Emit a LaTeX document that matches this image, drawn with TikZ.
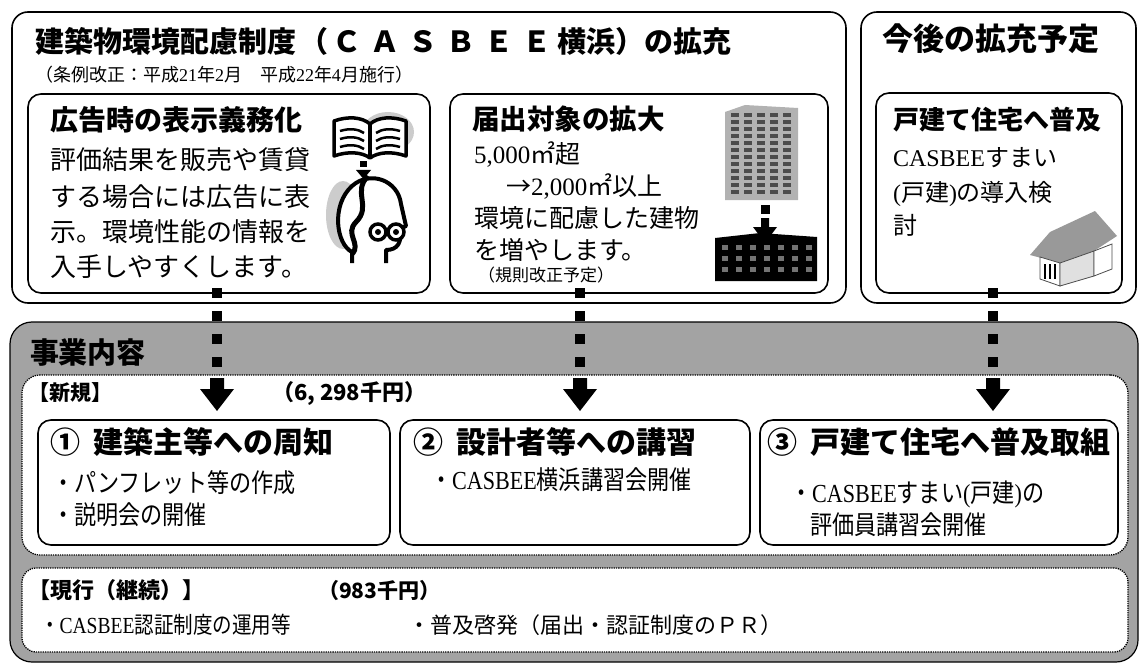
\documentclass[tikz,border=0pt]{standalone}
\usepackage{fontspec}
\setmainfont{Noto Sans CJK JP}
\newfontfamily\lat{Liberation Serif}
\newfontfamily\cond{Noto Sans CJK JP}[FakeStretch=0.85]
\newfontfamily\condlat{Liberation Serif}[FakeStretch=0.85]
\newcommand\fsz[1]{\fontsize{#1}{#1}\selectfont}
\definecolor{halftone}{gray}{0.64}
\definecolor{lightdot}{gray}{0.80}
\begin{document}
\begin{tikzpicture}[x=1pt,y=-1pt,
  panel/.style={draw, line width=1.6pt, rounded corners=16pt, inner sep=0pt, outer sep=0pt, anchor=north west},
  card/.style={draw, line width=1.6pt, rounded corners=13pt, inner sep=0pt, outer sep=0pt, anchor=north west},
  dotpanel/.style={draw, densely dotted, line width=1.3pt, fill=white, rounded corners=18pt, inner sep=0pt, outer sep=0pt, anchor=north west},
  txt/.style={inner sep=0pt, outer sep=0pt, anchor=base west},
  sqline/.style={line width=10pt, dash pattern=on 10pt off 13pt},
  blockarrow/.pic={\fill (-7,0) -- (7,0) -- (7,11) -- (17,11) -- (0,33) -- (-17,11) -- (-7,11) -- cycle;}
]
\useasboundingbox (0,0) rectangle (1141,666);

% ---------- upper panels ----------
\node[panel, minimum width=834pt, minimum height=291pt] (A) at (12,12) {};
\node[panel, minimum width=275pt, minimum height=291pt] (B) at (861,12) {};
\node[card, minimum width=402pt, minimum height=199pt] (A1) at (28,94) {};
\node[card, minimum width=378pt, minimum height=199pt] (A2) at (450,94) {};
\node[card, minimum width=246pt, minimum height=200pt] (B1) at (876,93) {};

\node[txt, font=\bfseries\fsz{29}] (tA) at (35,53)
  {建築物環境配慮制度\hspace{4pt}（\hspace{4pt}Ｃ\hspace{9pt}Ａ\hspace{9pt}Ｓ\hspace{9pt}Ｂ\hspace{9pt}Ｅ\hspace{9pt}Ｅ\hspace{5pt}横浜）の拡充};
\node[txt, font=\fsz{18}] (sA) at (35,82)
  {（条例改正：平成{\lat 21}年{\lat 2}月　平成{\lat 22}年{\lat 4}月施行）};

\node[txt, font=\bfseries\fsz{28}] (tA1) at (50,131) {広告時の表示義務化};
\node[txt, font=\fsz{26}] (bA1a) at (50,170) {評価結果を販売や賃貸};
\node[txt, font=\fsz{26}] (bA1b) at (50,206) {する場合には広告に表};
\node[txt, font=\fsz{26}] (bA1c) at (50,241) {示。環境性能の情報を};
\node[txt, font=\fsz{26}] (bA1d) at (50,276) {入手しやすくします。};

\node[txt, font=\bfseries\fsz{27.5}] (tA2) at (472,130) {届出対象の拡大};
\node[txt, font=\fsz{25}] (bA2a) at (474,164) {{\lat 5,000}㎡超};
\node[txt, font=\fsz{25}] (bA2b) at (506,195) {→{\lat 2,000}㎡以上};
\node[txt, font=\fsz{25}] (bA2c) at (474,227) {環境に配慮した建物};
\node[txt, font=\fsz{25}] (bA2d) at (474,259) {を増やします。};
\node[txt, font=\fsz{17}] (bA2e) at (478,281) {（規則改正予定）};

\node[txt, font=\bfseries\fsz{31}] (tB) at (882,51) {今後の拡充予定};
\node[txt, font=\bfseries\fsz{26}] (tB1) at (893,130) {戸建て住宅へ普及};
\node[txt, font=\fsz{24}] (bB1a) at (893,167) {{\lat CASBEE}すまい};
\node[txt, font=\fsz{24}] (bB1b) at (893,201) {{\lat (}戸建{\lat )}の導入検};
\node[txt, font=\fsz{24}] (bB1c) at (893,234) {討};

% book and reader
\fill[lightdot] (388,132) ellipse (26pt and 20pt);
\draw[line width=3.5pt, line join=round, fill=white]
  (334,121) .. controls (348,116) and (362,117) .. (370,124)
  .. controls (378,117) and (392,116) .. (406,121) -- (406,156)
  .. controls (392,151) and (378,152) .. (370,158)
  .. controls (362,152) and (348,151) .. (334,156) -- cycle;
\draw[line width=3.5pt] (370,124) -- (370,158);
\foreach \d in {0,8,16}{
  \draw[line width=2.5pt] (340,131+\d) .. controls (350,128+\d) and (358,129+\d) .. (364,133+\d);
  \draw[line width=2.5pt] (376,133+\d) .. controls (382,129+\d) and (390,128+\d) .. (400,131+\d);
}
\fill (360,161) rectangle (367,167);
\fill (356,170) -- (371,170) -- (363.5,179) -- cycle;
\fill[lightdot] (343,215) ellipse (17pt and 34pt);
\draw[line width=4pt, line join=round, fill=white]
  (352,263) -- (352,252) .. controls (336,244) and (331,205) .. (352,186)
  .. controls (370,170) and (398,180) .. (401,204) -- (406,226) -- (400,229)
  .. controls (402,242) and (398,250) .. (386,250) -- (386,263);
\draw[line width=5pt] (368,176) .. controls (352,192) and (372,206) .. (356,222)
  .. controls (344,234) and (362,244) .. (352,254);
\foreach \cx in {378,396}{
  \draw[line width=3.5pt, fill=white] (\cx,232) circle (8pt);
  \fill (\cx,232) circle (3pt);
}

% tower and low-rise block
\fill[black!30] (725,112) -- (745,105) -- (798,108) -- (798,200) -- (725,200) -- cycle;
\foreach \c in {731,744,757,770,783}{
  \foreach \r in {113,120,...,193}{
    \fill[black!70] (\c,\r) rectangle (\c+8,\r+4);
  }
}
\fill (761,205) rectangle (770,214);
\fill (761,218) -- (769,218) -- (769,227) -- (777,227) -- (765,243) -- (753,227) -- (761,227) -- cycle;
\fill (715,238) -- (760,233) -- (817,237) -- (817,281) -- (715,281) -- cycle;
\foreach \c in {722,736,750,764,778,792,806}{
  \foreach \r in {245,256,267}{
    \fill[black!55] (\c,\r) rectangle (\c+6,\r+5);
  }
}

% house
\fill[black!40] (1030,255) -- (1050,232) -- (1095,211) -- (1117,236) -- (1094,251) -- (1060,263) -- cycle;
\draw[black!70, line width=0.8pt, fill=white] (1040,257) -- (1060,263) -- (1060,286) -- (1040,279) -- cycle;
\draw[black!70, line width=0.8pt, fill=black!12] (1060,263) -- (1094,251) -- (1094,276) -- (1060,286) -- cycle;
\draw[black!70, line width=0.8pt, fill=white] (1094,251) -- (1112,244) -- (1112,269) -- (1094,276) -- cycle;
\foreach \wx in {1045,1050,1055}{
  \draw[line width=1.5pt] (\wx,264) -- (\wx,279);
}

% ---------- lower panel ----------
\node[panel, fill=halftone, rounded corners=22pt, line width=1.2pt, minimum width=1128pt, minimum height=340pt] (G) at (10,322) {};
\node[txt, font=\bfseries\fsz{29}] (tG) at (30,363) {事業内容};
\node[dotpanel, minimum width=1106pt, minimum height=180pt] (N) at (22,375) {};
\node[card, fill=white, minimum width=352pt, minimum height=125pt] (C1) at (38,420) {};
\node[card, fill=white, minimum width=350pt, minimum height=125pt] (C2) at (400,420) {};
\node[card, fill=white, minimum width=358pt, minimum height=125pt] (C3) at (760,420) {};
\node[dotpanel, rounded corners=14pt, minimum width=1106pt, minimum height=84pt] (K) at (22,568) {};

\node[txt, font=\bfseries\fsz{21}] (tN) at (28,400) {【新規】};
\node[txt, font=\bfseries\fsz{22}] (mN) at (272,400) {（6, 298千円）};

\node[txt, font=\bfseries\fsz{30}] (tC1) at (50,453) {①\hspace{14pt}建築主等への周知};
\node[txt, font=\bfseries\fsz{30}] (tC2) at (413,453) {②\hspace{14pt}設計者等への講習};
\node[txt, font=\bfseries\fsz{30}] (tC3) at (767,453) {③\hspace{14pt}戸建て住宅へ普及取組};

\node[txt, font=\fsz{26}\cond] (bC1a) at (52,492) {・パンフレット等の作成};
\node[txt, font=\fsz{26}\cond] (bC1b) at (52,524) {・説明会の開催};
\node[txt, font=\fsz{26}\cond] (bC2a) at (430,489) {・{\condlat CASBEE}横浜講習会開催};
\node[txt, font=\fsz{26}\cond] (bC3a) at (790,502) {・{\condlat CASBEE}すまい{\condlat (}戸建{\condlat )}の};
\node[txt, font=\fsz{26}\cond] (bC3b) at (810,534) {評価員講習会開催};

\node[txt, font=\bfseries\fsz{22}] (tK) at (28,598) {【現行（継続）】};
\node[txt, font=\bfseries\fsz{21}] (mK) at (318,598) {（983千円）};
\node[txt, font=\fsz{23}\cond] (bKa) at (40,633) {・{\condlat CASBEE}認証制度の運用等};
\node[txt, font=\fsz{22}] (bKb) at (408,633) {・普及啓発（届出・認証制度のＰＲ）};

% ---------- connectors ----------
\coordinate (h1) at (217,378);
\coordinate (h2) at (580,378);
\coordinate (h3) at (993,378);
\coordinate (s1) at (A1.south -| h1);
\coordinate (s2) at (A2.south -| h2);
\coordinate (s3) at (B1.south -| h3);
\draw[sqline] ([yshift=5pt]s1) -- (h1);
\draw[sqline] ([yshift=5pt]s2) -- (h2);
\draw[sqline] ([yshift=5pt]s3) -- (h3);
\pic at (h1) {blockarrow};
\pic at (h2) {blockarrow};
\pic at (h3) {blockarrow};
\end{tikzpicture}
\end{document}
